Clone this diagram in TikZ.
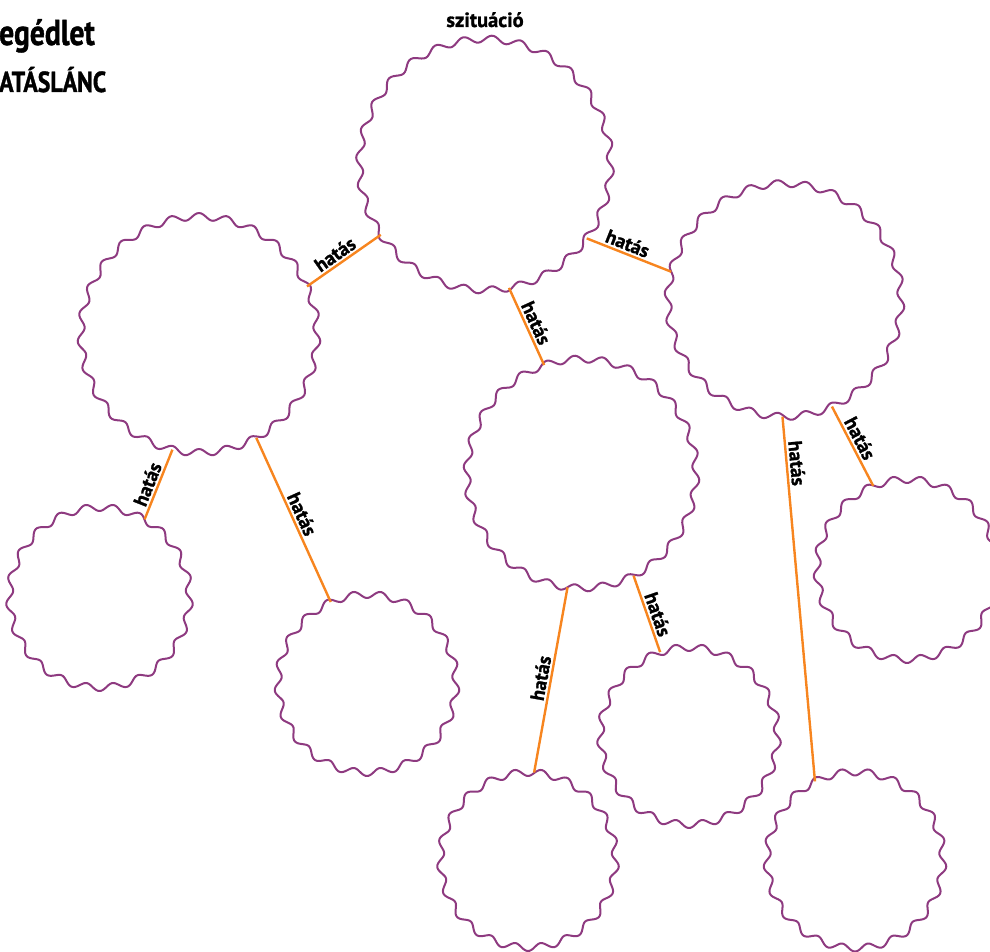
\documentclass[tikz,border=0pt]{standalone}
\usepackage{fontspec}
\setmainfont{PT Sans}
\newfontfamily\heavyfont{PT Sans Bold}[FakeBold=1.2]
\newfontfamily\titlefont{PT Sans Bold}[FakeStretch=0.82,FakeBold=1.2]
\usetikzlibrary{positioning}
\definecolor{ringpurple}{RGB}{142,58,128}
\definecolor{linkorange}{RGB}{247,133,31}

% wavy bubble: name, x, y, radius, number of waves
\newcommand{\bubble}[5]{%
  \node[hub,minimum size=#4*2pt] (#1) at (#2,#3) {};
  \draw[ring,shift={(#1.center)}] plot[domain=0:360,samples=361] (\x:{#4+3.5*sin(#5*\x)}) -- cycle;}

\begin{document}
\begin{tikzpicture}[x=1pt,y=-1pt,
    hub/.style={circle,inner sep=0pt},
    ring/.style={draw=ringpurple,line width=2pt,line join=round},
    link/.style={draw=linkorange,line width=2.4pt},
    lbl/.style={sloped,above,inner sep=2pt,text=black,font=\heavyfont\fontsize{19.5}{19.5}\selectfont}]
	\useasboundingbox (0,0) rectangle (990,952);
	% titles
	\node[anchor=base west,inner sep=0pt,font=\titlefont\fontsize{36}{36}\selectfont] (title) at (-1,45) {egédlet};
	\node[anchor=base west,inner sep=0pt,font=\titlefont\fontsize{29}{29}\selectfont] (subtitle) at (-1,92) {ATÁSLÁNC};
	% bubbles
	\bubble{s_0}{485}{164.5}{125.5}{28}
	\bubble{h_1}{199}{334.5}{118}{27}
	\bubble{h_2}{784.5}{300}{116.5}{26}
	\bubble{h_3}{581.5}{473.5}{114.5}{26}
	\bubble{h_4}{99.5}{597.5}{90}{21}
	\bubble{h_5}{367}{683.5}{89}{21}
	\bubble{h_6}{528}{860}{87.5}{21}
	\bubble{h_7}{689}{736}{88.5}{21}
	\bubble{h_8}{855}{860}{88}{21}
	\bubble{h_9}{907}{569.5}{90}{21}
	\node[anchor=base,inner sep=0pt,font=\heavyfont\fontsize{20.5}{20.5}\selectfont] (sit) at (485,27) {szituáció};
	% links
	\path[link]
		(s_0.214) edge node[lbl,pos=.54] {hatás} (h_1.24)
		(s_0.324) edge node[lbl,pos=.44] {hatás} (h_2.166)
		(s_0.281) edge node[lbl,pos=.51] {hatás} (h_3.109)
		(h_1.257) edge node[lbl,pos=.55] {hatás} (h_4.60)
		(h_1.299) edge node[lbl,pos=.49] {hatás} (h_5.114)
		(h_3.263) edge node[lbl,pos=.5] {hatás} (h_6.86)
		(h_3.297) edge node[lbl,pos=.55] {hatás} (h_7.109)
		(h_2.269) edge node[lbl,pos=.13] {hatás} (h_8.117)
		(h_2.294) edge node[lbl,pos=.46] {hatás} (h_9.112);
\end{tikzpicture}
\end{document}
